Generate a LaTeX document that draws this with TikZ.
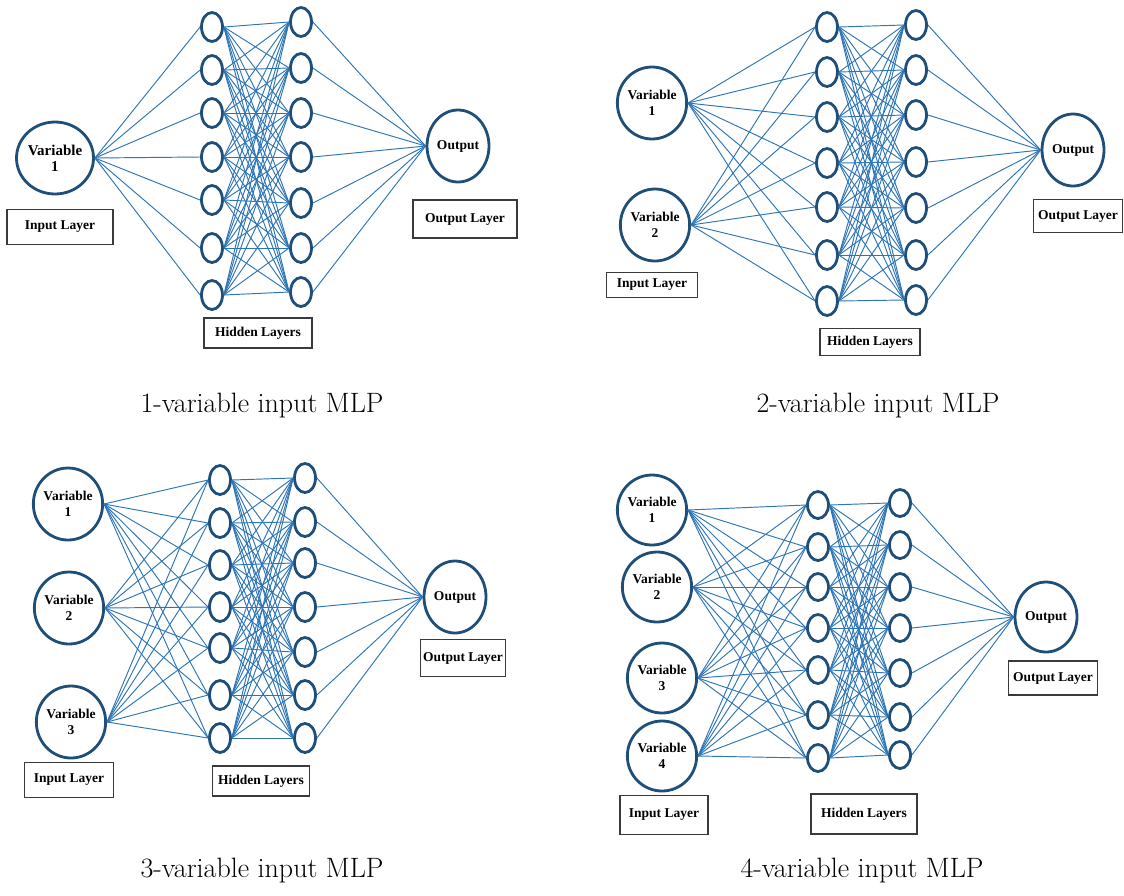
\documentclass[tikz,border=0pt]{standalone}
\usepackage{fontspec}
\newfontfamily\lblfont{Liberation Serif}
\usetikzlibrary{shapes.geometric}
\definecolor{nodeblue}{HTML}{1F4E79}
\definecolor{lineblue}{HTML}{2E75B6}
\definecolor{boxgray}{HTML}{3A3A3A}
\begin{document}
\begin{tikzpicture}[x=1pt,y=-1pt,
  inpnode/.style={ellipse, draw=nodeblue, line width=2.8pt, minimum width=62pt, minimum height=72pt, inner sep=0pt, align=center, font=\lblfont\bfseries\fontsize{13.5}{15.5}\selectfont},
  hidnode/.style={ellipse, draw=nodeblue, line width=2.8pt, minimum width=21pt, minimum height=29pt, inner sep=0pt},
  lblbox/.style={draw=boxgray, line width=1.1pt, inner sep=0pt, font=\lblfont\bfseries\fontsize{13.5}{15.5}\selectfont},
  conn/.style={lineblue, line width=0.95pt},
  captxt/.style={font=\fontsize{28}{32}\selectfont, inner sep=0pt}
]
\useasboundingbox (0,0) rectangle (1124,895);

% ---------- Panel 1 ----------
\node[inpnode, font=\lblfont\bfseries\fontsize{15}{16}\selectfont] (a-x1) at (55,158) {Variable\\1};
\foreach \i/\y in {1/27,2/70,3/113,4/157,5/200,6/248,7/295}
  \node[hidnode] (a-h\i) at (212,\y) {};
\foreach \i/\y in {1/22,2/68,3/113,4/157,5/203,6/248,7/292}
  \node[hidnode] (a-g\i) at (301,\y) {};
\node[inpnode] (a-o) at (458,146) {Output};
\node[lblbox, minimum width=106pt, minimum height=35pt] (a-il) at (60,227) {Input Layer};
\node[lblbox, minimum width=104pt, minimum height=38pt] (a-ol) at (465,219) {Output Layer};
\node[lblbox, minimum width=108pt, minimum height=30pt] (a-hl) at (258,333) {Hidden Layers};
\node[captxt] (a-cap) at (262,406) {1-variable input MLP};
\foreach \i in {1,...,7} {
  \draw[conn] (a-x1.east) -- (a-h\i.west);
  \foreach \j in {1,...,7} \draw[conn] (a-h\i.east) -- (a-g\j.west);
  \draw[conn] (a-g\i.east) -- (a-o.west);
}

% ---------- Panel 2 ----------
\node[inpnode] (b-x1) at (652,103) {Variable\\1};
\node[inpnode] (b-x2) at (655,225) {Variable\\2};
\foreach \i/\y in {1/27,2/72,3/117,4/163,5/207,6/255,7/301}
  \node[hidnode] (b-h\i) at (827,\y) {};
\foreach \i/\y in {1/25,2/70,3/115,4/162,5/208,6/255,7/300}
  \node[hidnode] (b-g\i) at (916,\y) {};
\node[inpnode] (b-o) at (1073,150) {Output};
\node[lblbox, minimum width=91pt, minimum height=25pt] (b-il) at (652,285) {Input Layer};
\node[lblbox, minimum width=89pt, minimum height=33pt] (b-ol) at (1078,216) {Output Layer};
\node[lblbox, minimum width=100pt, minimum height=27pt] (b-hl) at (870,342) {Hidden Layers};
\node[captxt] (b-cap) at (878,406) {2-variable input MLP};
\foreach \i in {1,...,7} {
  \foreach \k in {1,2} \draw[conn] (b-x\k.east) -- (b-h\i.west);
  \foreach \j in {1,...,7} \draw[conn] (b-h\i.east) -- (b-g\j.west);
  \draw[conn] (b-g\i.east) -- (b-o.west);
}

% ---------- Panel 3 ----------
\node[inpnode] (c-x1) at (68,504) {Variable\\1};
\node[inpnode] (c-x2) at (69,608) {Variable\\2};
\node[inpnode] (c-x3) at (71,722) {Variable\\3};
\foreach \i/\y in {1/480,2/523,3/565,4/607,5/648,6/695,7/738}
  \node[hidnode] (c-h\i) at (220,\y) {};
\foreach \i/\y in {1/478,2/522,3/563,4/607,5/652,6/695,7/738}
  \node[hidnode] (c-g\i) at (305,\y) {};
\node[inpnode] (c-o) at (455,597) {Output};
\node[lblbox, minimum width=89pt, minimum height=35pt] (c-il) at (69,780) {Input Layer};
\node[lblbox, minimum width=85pt, minimum height=37pt] (c-ol) at (463,658) {Output Layer};
\node[lblbox, minimum width=97pt, minimum height=30pt] (c-hl) at (261,781) {Hidden Layers};
\node[captxt] (c-cap) at (262,870) {3-variable input MLP};
\foreach \i in {1,...,7} {
  \foreach \k in {1,2,3} \draw[conn] (c-x\k.east) -- (c-h\i.west);
  \foreach \j in {1,...,7} \draw[conn] (c-h\i.east) -- (c-g\j.west);
  \draw[conn] (c-g\i.east) -- (c-o.west);
}

% ---------- Panel 4 ----------
\node[inpnode, minimum height=70pt] (d-x1) at (652,510) {Variable\\1};
\node[inpnode, minimum height=70pt] (d-x2) at (657,587) {Variable\\2};
\node[inpnode, minimum height=70pt] (d-x3) at (662,678) {Variable\\3};
\node[inpnode, minimum height=70pt] (d-x4) at (662,756) {Variable\\4};
\foreach \i/\y in {1/505,2/547,3/587,4/628,5/670,6/715,7/758}
  \node[hidnode, minimum height=27pt] (d-h\i) at (818,\y) {};
\foreach \i/\y in {1/503,2/545,3/587,4/628,5/673,6/717,7/755}
  \node[hidnode, minimum height=27pt] (d-g\i) at (900,\y) {};
\node[inpnode, minimum height=70pt] (d-o) at (1046,617) {Output};
\node[lblbox, minimum width=88pt, minimum height=39pt] (d-il) at (664,815) {Input Layer};
\node[lblbox, minimum width=89pt, minimum height=34pt] (d-ol) at (1053,678) {Output Layer};
\node[lblbox, minimum width=106pt, minimum height=40pt] (d-hl) at (864,814) {Hidden Layers};
\node[captxt] (d-cap) at (862,870) {4-variable input MLP};
\foreach \i in {1,...,7} {
  \foreach \k in {1,2,3,4} \draw[conn] (d-x\k.east) -- (d-h\i.west);
  \foreach \j in {1,...,7} \draw[conn] (d-h\i.east) -- (d-g\j.west);
  \draw[conn] (d-g\i.east) -- (d-o.west);
}
\end{tikzpicture}
\end{document}
